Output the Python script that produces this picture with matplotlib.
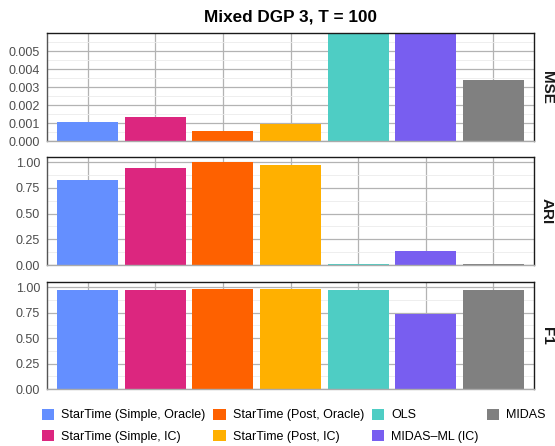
import matplotlib
matplotlib.use("Agg")
import matplotlib.pyplot as plt
from matplotlib.patches import Patch
from matplotlib.ticker import FixedLocator, FormatStrFormatter

plt.rcParams["font.family"] = ["Liberation Sans", "DejaVu Sans"]

methods = ["StarTime (Simple, Oracle)", "StarTime (Simple, IC)",
           "StarTime (Post, Oracle)", "StarTime (Post, IC)",
           "OLS", "MIDAS\u2013ML (IC)", "MIDAS"]
colors = ["#648FFF", "#DC267F", "#FE6100", "#FFB000",
          "#4ECDC4", "#785EF0", "#808080"]

mse = [0.00104, 0.00133, 0.00056, 0.00094, 0.0087, 0.0091, 0.00339]
ari = [0.83, 0.94, 0.997, 0.977, 0.005, 0.137, 0.005]
f1 = [0.968, 0.968, 0.977, 0.977, 0.968, 0.737, 0.968]

mse_ticks = [0, 0.001, 0.002, 0.003, 0.004, 0.005]
score_ticks = [0, 0.25, 0.5, 0.75, 1.0]

W, H = 555, 446
fig = plt.figure(figsize=(W / 100, H / 100), dpi=100)

left, right = 47, 534
panels = [
    ("MSE", mse, 33, 141, (0, 0.006), mse_ticks, "%.3f"),
    ("ARI", ari, 157, 265, (0, 1.05), score_ticks, "%.2f"),
    ("F1", f1, 282, 389, (0, 1.05), score_ticks, "%.2f"),
]
xs = list(range(1, len(methods) + 1))

for name, vals, top, bot, ylim, ticks, fmt in panels:
    ax = fig.add_axes([left / W, 1 - bot / H, (right - left) / W, (bot - top) / H])
    ax.bar(xs, vals, width=0.9, color=colors, zorder=2)
    ax.set_xlim(0.4, len(methods) + 0.6)
    ax.set_ylim(*ylim)
    step = ticks[1] - ticks[0]
    minor = [t + step / 2 for t in ticks]
    ax.yaxis.set_major_locator(FixedLocator(ticks))
    ax.yaxis.set_minor_locator(FixedLocator(minor))
    ax.yaxis.set_major_formatter(FormatStrFormatter(fmt))
    ax.set_xticks(xs)
    ax.set_xticklabels([])
    ax.grid(which="major", color="#b3b3b3", lw=0.9, zorder=0)
    ax.grid(which="minor", axis="y", color="#ebebeb", lw=0.6, zorder=0)
    ax.set_axisbelow(True)
    ax.tick_params(which="both", length=0)
    ax.tick_params(axis="y", labelsize=9, labelcolor="#4d4d4d", pad=5)
    for side in ("top", "right"):
        ax.spines[side].set_color("#1a1a1a")
    ax.spines["left"].set_color("#555555")
    ax.spines["bottom"].set_color("#aaaaaa")
    for sp in ax.spines.values():
        sp.set_linewidth(1.0)
    fig.text(547 / W, 1 - (top + bot) / 2 / H, name, rotation=-90,
             ha="center", va="center", fontsize=11, fontweight="bold",
             color="#1a1a1a")

fig.text((left + right) / 2 / W, 1 - 17 / H, "Mixed DGP 3, T = 100",
         ha="center", va="center", fontsize=12.3, fontweight="bold")

handles = [Patch(facecolor=c, edgecolor="none") for c in colors]
fig.legend(handles, methods, ncol=4, loc="upper left",
           bbox_to_anchor=(39 / W, 1 - 406 / H), frameon=False,
           fontsize=9, handlelength=0.98, handleheight=0.98,
           handletextpad=0.57, columnspacing=0.65, labelspacing=0.7,
           borderpad=0.2, borderaxespad=0)

fig.savefig("out.png", dpi=100)
